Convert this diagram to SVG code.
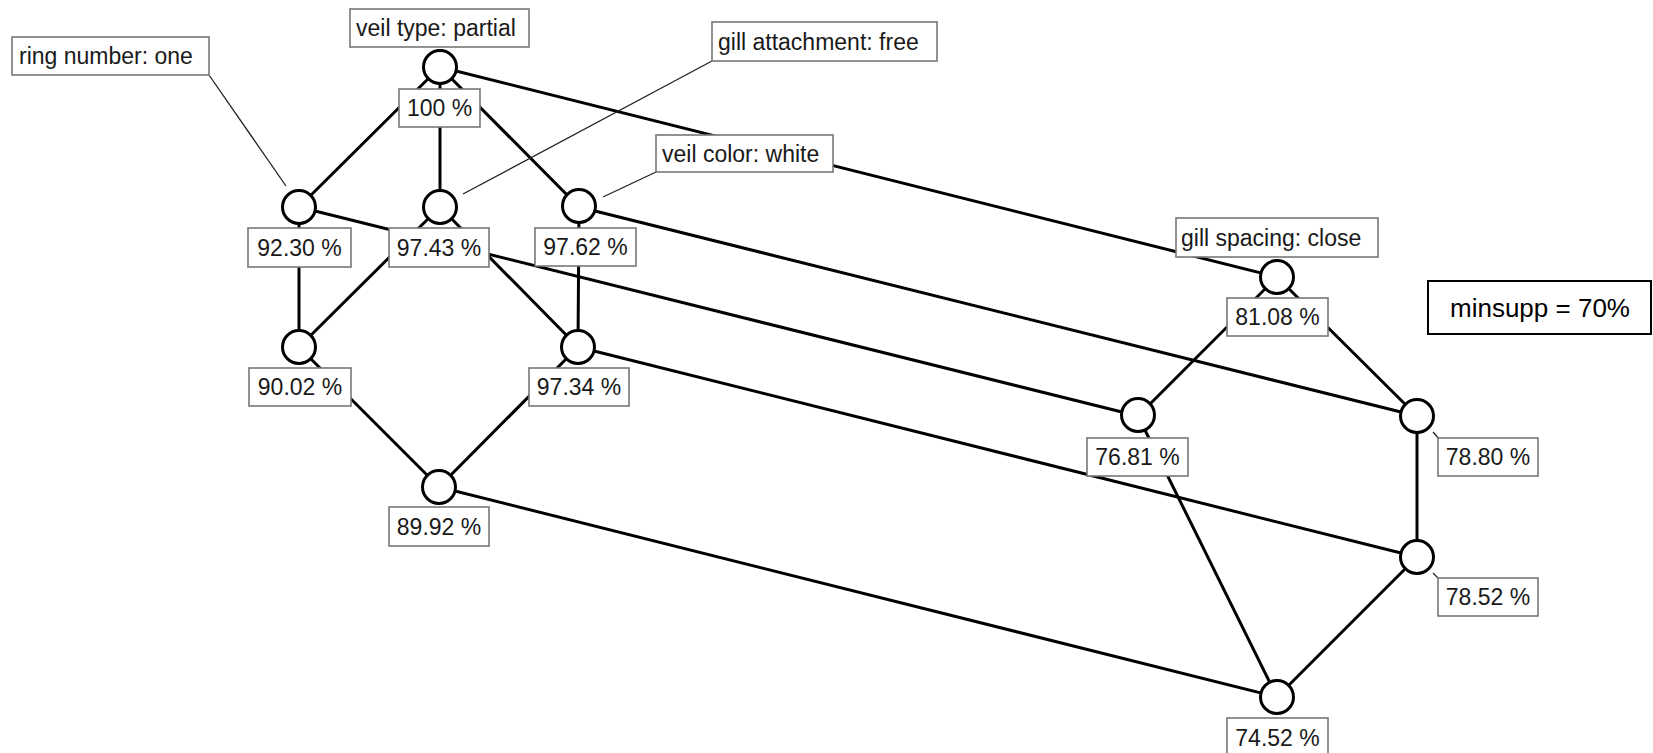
<svg xmlns="http://www.w3.org/2000/svg" width="1653" height="753" viewBox="0 0 1653 753">
  <style>
    .edge { stroke: #000; stroke-width: 3; fill: none; stroke-linecap: round; }
    .leader { stroke: #222; stroke-width: 1.3; fill: none; }
    .node { fill: #fff; stroke: #000; stroke-width: 3; }
    .box { fill: #fff; stroke: #777; stroke-width: 1.6; }
    .lbl { font-family: "Liberation Sans", Arial, sans-serif; font-size: 23px; fill: #1a1a1a; }
    .mid { text-anchor: middle; }
    .note { fill: #fff; stroke: #000; stroke-width: 2; }
    .notetext { font-family: "Liberation Sans", Arial, sans-serif; font-size: 26px; fill: #000; text-anchor: middle; }
  </style>
  <rect x="0" y="0" width="1653" height="753" fill="#fff"/>

  <!-- lattice edges -->
  <g id="connectors">
    <line class="edge" x1="440" y1="67" x2="299" y2="207"/>
    <line class="edge" x1="440" y1="67" x2="440" y2="207"/>
    <line class="edge" x1="440" y1="67" x2="579" y2="207"/>
    <line class="edge" x1="440" y1="67" x2="1277" y2="277"/>
    <line class="edge" x1="299" y1="207" x2="299" y2="347"/>
    <line class="edge" x1="440" y1="207" x2="299" y2="347"/>
    <line class="edge" x1="440" y1="207" x2="578" y2="347"/>
    <line class="edge" x1="579" y1="207" x2="578" y2="347"/>
    <line class="edge" x1="299" y1="207" x2="1138" y2="416"/>
    <line class="edge" x1="579" y1="207" x2="1417" y2="416"/>
    <line class="edge" x1="1277" y1="277" x2="1138" y2="416"/>
    <line class="edge" x1="1277" y1="277" x2="1417" y2="416"/>
    <line class="edge" x1="299" y1="347" x2="439" y2="487"/>
    <line class="edge" x1="578" y1="347" x2="439" y2="487"/>
    <line class="edge" x1="578" y1="347" x2="1417" y2="557"/>
    <line class="edge" x1="1417" y1="416" x2="1417" y2="557"/>
    <line class="edge" x1="439" y1="487" x2="1277" y2="697"/>
    <line class="edge" x1="1138" y1="416" x2="1277" y2="697"/>
    <line class="edge" x1="1417" y1="557" x2="1277" y2="697"/>
  </g>

  <!-- top concept -->
  <g id="n-top">
    <circle class="node" cx="440" cy="67" r="16.5"/>
    <rect class="box" x="350" y="9" width="179" height="38"/>
    <text class="lbl" x="356" y="36">veil type: partial</text>
    <rect class="box" x="399" y="89" width="81" height="38"/>
    <text class="lbl mid" x="439.5" y="116">100 %</text>
  </g>

  <g id="n-ring">
    <line class="leader" x1="209" y1="75" x2="286" y2="186"/>
    <circle class="node" cx="299" cy="207" r="16.5"/>
    <rect class="box" x="12" y="37" width="197" height="38"/>
    <text class="lbl" x="19" y="64">ring number: one</text>
    <rect class="box" x="248" y="228" width="103" height="39"/>
    <text class="lbl mid" x="299.5" y="256">92.30 %</text>
  </g>

  <g id="n-attach">
    <line class="leader" x1="712" y1="61" x2="463" y2="194"/>
    <circle class="node" cx="440" cy="207" r="16.5"/>
    <rect class="box" x="712" y="22" width="225" height="39"/>
    <text class="lbl" x="718" y="50">gill attachment: free</text>
    <rect class="box" x="389" y="228" width="100" height="39"/>
    <text class="lbl mid" x="439" y="256">97.43 %</text>
  </g>

  <g id="n-color">
    <line class="leader" x1="656" y1="172" x2="603" y2="197"/>
    <circle class="node" cx="579" cy="206" r="16.5"/>
    <rect class="box" x="535" y="228" width="101" height="38"/>
    <text class="lbl mid" x="585.5" y="255">97.62 %</text>
    <rect class="box" x="656" y="135" width="177" height="37"/>
    <text class="lbl" x="662" y="162">veil color: white</text>
  </g>

  <g id="n-ring-attach">
    <circle class="node" cx="299" cy="347" r="16.5"/>
    <rect class="box" x="249" y="368" width="102" height="38"/>
    <text class="lbl mid" x="300" y="395">90.02 %</text>
  </g>

  <g id="n-attach-color">
    <circle class="node" cx="578" cy="347" r="16.5"/>
    <rect class="box" x="529" y="368" width="100" height="38"/>
    <text class="lbl mid" x="579" y="395">97.34 %</text>
  </g>

  <g id="n-ring-attach-color">
    <circle class="node" cx="439" cy="487" r="16.5"/>
    <rect class="box" x="389" y="507" width="100" height="39"/>
    <text class="lbl mid" x="439" y="535">89.92 %</text>
  </g>

  <g id="n-spacing">
    <circle class="node" cx="1277" cy="277" r="16.5"/>
    <rect class="box" x="1176" y="218" width="202" height="39"/>
    <text class="lbl" x="1181" y="246">gill spacing: close</text>
    <rect class="box" x="1227" y="298" width="101" height="38"/>
    <text class="lbl mid" x="1277.5" y="325">81.08 %</text>
  </g>

  <g id="n-ring-spacing">
    <circle class="node" cx="1138" cy="415" r="16.5"/>
    <rect class="box" x="1087" y="438" width="101" height="38"/>
    <text class="lbl mid" x="1137.5" y="465">76.81 %</text>
  </g>

  <g id="n-color-spacing">
    <line class="leader" x1="1433" y1="432" x2="1440" y2="440"/>
    <circle class="node" cx="1417" cy="416" r="16.5"/>
    <rect class="box" x="1438" y="438" width="100" height="38"/>
    <text class="lbl mid" x="1488" y="465">78.80 %</text>
  </g>

  <g id="n-attach-color-spacing">
    <line class="leader" x1="1433" y1="573" x2="1440" y2="580"/>
    <circle class="node" cx="1417" cy="557" r="16.5"/>
    <rect class="box" x="1438" y="578" width="100" height="38"/>
    <text class="lbl mid" x="1488" y="605">78.52 %</text>
  </g>

  <g id="n-bottom">
    <circle class="node" cx="1277" cy="697" r="16.5"/>
    <rect class="box" x="1227" y="718" width="101" height="39"/>
    <text class="lbl mid" x="1277.5" y="746">74.52 %</text>
  </g>

  <g id="minsupp">
    <rect class="note" x="1428" y="281" width="223" height="53"/>
    <text class="notetext" x="1540" y="317">minsupp = 70%</text>
  </g>
</svg>
